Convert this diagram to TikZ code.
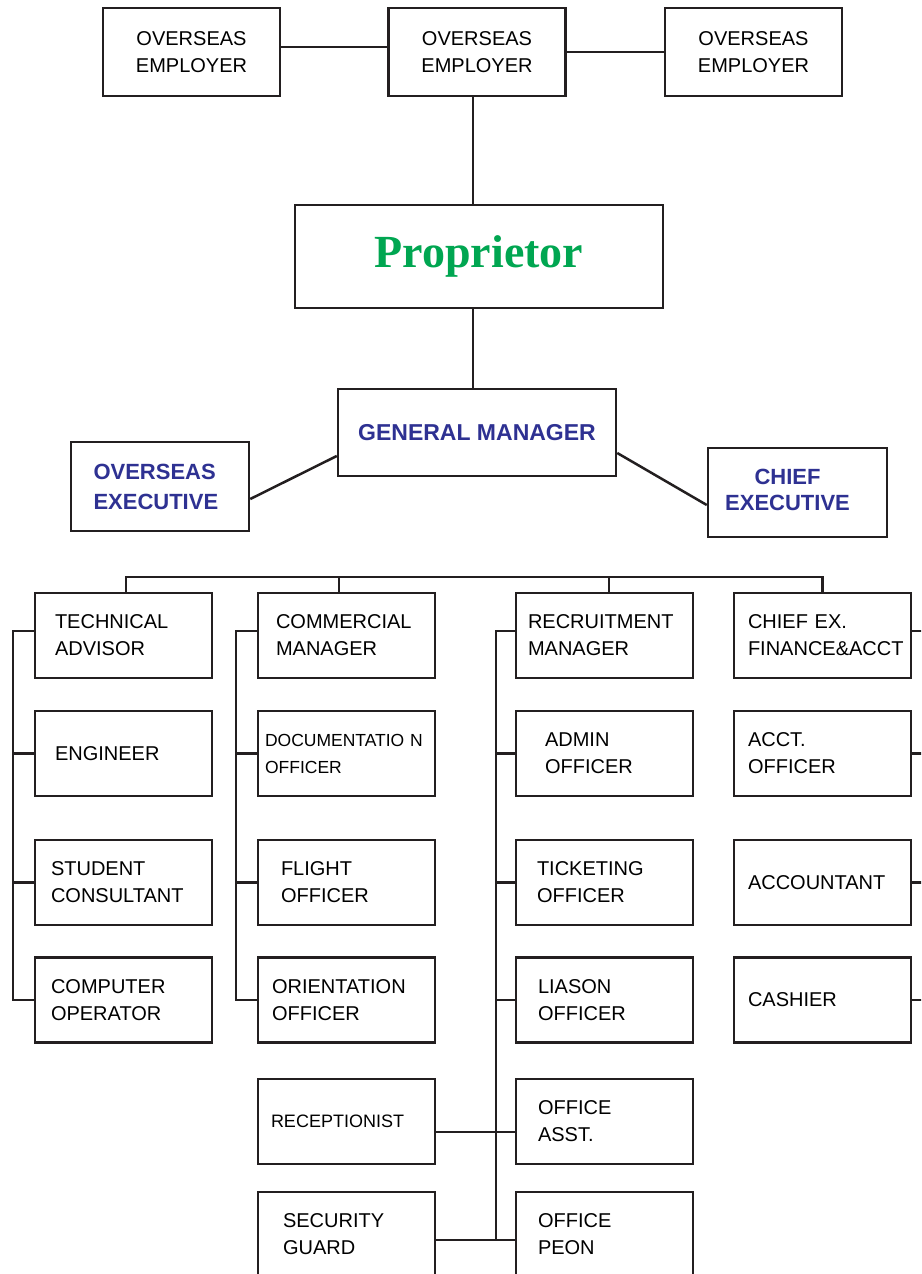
\documentclass[tikz,border=0pt]{standalone}
\usepackage{fontspec}
\setmainfont{Liberation Sans}
\newfontfamily\propfont{Liberation Serif}

\definecolor{lineGray}{HTML}{231F20}
\definecolor{headBlue}{HTML}{2E3192}
\definecolor{propGreen}{HTML}{00A651}

\begin{document}
\begin{tikzpicture}[x=1pt,y=-1pt,
  wire/.style={draw=lineGray, line width=2.5pt},
  box/.style={draw=lineGray, line width=2.5pt, fill=white, text=black,
    minimum width=177pt, minimum height=85pt,
    font=\fontsize{20}{27}\selectfont},
  % text starts #1 from the left side of the box
  inset/.code={\pgfmathsetmacro\tw{177-2*#1}%
    \edef\tmp{\noexpand\tikzset{inner xsep=#1pt, text width=\tw pt, align=left}}\tmp},
  headtext/.style={text=headBlue, font=\bfseries\fontsize{22}{#1}\selectfont}]

  % Page frame
  \useasboundingbox (0,0) rectangle (921,1274);
  \clip (0,0) rectangle (921,1274);

  % Overseas employers
  \node[box, minimum height=88pt, align=center] (emp1) at (191.5,52) {OVERSEAS\\EMPLOYER};
  \node[box, minimum height=88pt, align=center] (emp2) at (477,52) {OVERSEAS\\EMPLOYER};
  \node[box, minimum height=88pt, align=center] (emp3) at (753.5,52) {OVERSEAS\\EMPLOYER};

  % Proprietor and general manager
  \node[box, minimum width=368pt, minimum height=103pt, text=propGreen,
    font=\propfont\bfseries\fontsize{46}{50}\selectfont] (prop) at (479,256.5) {Proprietor};
  \node[box, minimum width=278pt, minimum height=87pt, text=headBlue,
    font=\bfseries\fontsize{23}{28}\selectfont] (gm) at (477,432.5) {GENERAL MANAGER};

  % Executives beside the general manager
  \node[box, minimum width=178pt, minimum height=89pt, inset=22, headtext=30] (oex) at (160,486.5) {OVERSEAS\\EXECUTIVE};
  \node[box, minimum width=179pt, minimum height=89pt, headtext=26] (chief) at (797.5,492.5)
    {\begin{tabular}{@{}c@{}}CHIEF\\EXECUTIVE\end{tabular}\hspace*{20pt}};

  % Staff boxes: name / x / y / inset / size / text
  \foreach \name/\xx/\yy/\dx/\fs/\txt in {
      ta/123.5/635.5/20/20/{TECHNICAL\\ADVISOR},
      eng/123.5/753.5/20/20/{ENGINEER},
      stu/123.5/882.5/16/20/{STUDENT\\CONSULTANT},
      cop/123.5/1000/16/20/{COMPUTER\\OPERATOR},
      cm/346.5/635.5/18/20/{COMMERCIAL\\MANAGER},
      doc/346.5/753.5/7/17.5/{DOCUMENTATIO N\\OFFICER},
      fli/346.5/882.5/23/20/{FLIGHT\\OFFICER},
      ori/346.5/1000/14/20/{ORIENTATION\\OFFICER},
      rec/346.5/1121.5/13/18/{RECEPTIONIST},
      sec/346.5/1234.5/25/20/{SECURITY\\GUARD},
      rm/604.5/635.5/12/20/{RECRUITMENT\\MANAGER},
      adm/604.5/753.5/29/20/{ADMIN\\OFFICER},
      tic/604.5/882.5/21/20/{TICKETING\\OFFICER},
      lia/604.5/1000/22/20/{LIASON\\OFFICER},
      oas/604.5/1121.5/22/20/{OFFICE\\ASST.},
      peo/604.5/1234.5/22/20/{OFFICE\\PEON},
      cef/822.5/635.5/14/20/{CHIEF EX.\\FINANCE\&ACCT},
      aco/822.5/753.5/14/20/{ACCT.\\OFFICER},
      acc/822.5/882.5/14/20/{ACCOUNTANT},
      cas/822.5/1000/14/20/{CASHIER}}
  {
    \node[box, inset=\dx, font=\fontsize{\fs}{27}\selectfont] (\name) at (\xx,\yy) {\txt};
  }

  % Top links
  \draw[wire] ([yshift=5pt]emp1.east) -- ([yshift=5pt]emp2.west);
  \draw[wire] (emp2.east) -- (emp3.west);
  \coordinate (trunk) at (473,0);
  \draw[wire] (emp2.south -| trunk) -- (prop.north -| trunk);
  \draw[wire] (prop.south -| trunk) -- (gm.north -| trunk);
  \draw[wire] ([yshift=-23.5pt]gm.west) -- ([yshift=-12.5pt]oex.east);
  \draw[wire] ([yshift=-20.5pt]gm.east) -- ([yshift=-12.5pt]chief.west);

  % Bus over the four department heads
  \coordinate (bus) at (0,577);
  \draw[wire] ([xshift=2.5pt]ta.north) |- (bus -| cef.north) -- (cef.north);
  \foreach \n/\dx in {cm/-7.5, rm/4.5}
    \draw[wire] ([xshift=\dx pt]\n.north) -- ([xshift=\dx pt]\n.north |- bus);

  % Side spines
  \coordinate (sp1) at (13,0);
  \coordinate (sp2) at (236,0);
  \coordinate (sp3) at (496,0);
  \coordinate (sp4) at (925,0);
  \draw[wire] ([yshift=4.5pt]ta.west) -| (sp1 |- cop.west) -- (cop.west);
  \foreach \n in {eng,stu}
    \draw[wire] (\n.west) -- (\n.west -| sp1);
  \draw[wire] ([yshift=4.5pt]cm.west) -| (sp2 |- ori.west) -- (ori.west);
  \foreach \n in {doc,fli}
    \draw[wire] (\n.west) -- (\n.west -| sp2);
  \draw[wire] ([yshift=4.5pt]rm.west) -| ([yshift=-5.5pt]sp3 |- peo.west);
  \foreach \n in {adm,tic,lia}
    \draw[wire] (\n.west) -- (\n.west -| sp3);
  \draw[wire] ([yshift=-10.5pt]rec.east) -- ([yshift=-10.5pt]oas.west);
  \draw[wire] ([yshift=-5.5pt]sec.east) -- ([yshift=-5.5pt]peo.west);
  \draw[wire] ([yshift=4.5pt]cef.east) -| (sp4 |- cas.east) -- (cas.east);
  \foreach \n in {aco,acc}
    \draw[wire] (\n.east) -- (\n.east -| sp4);
\end{tikzpicture}
\end{document}
